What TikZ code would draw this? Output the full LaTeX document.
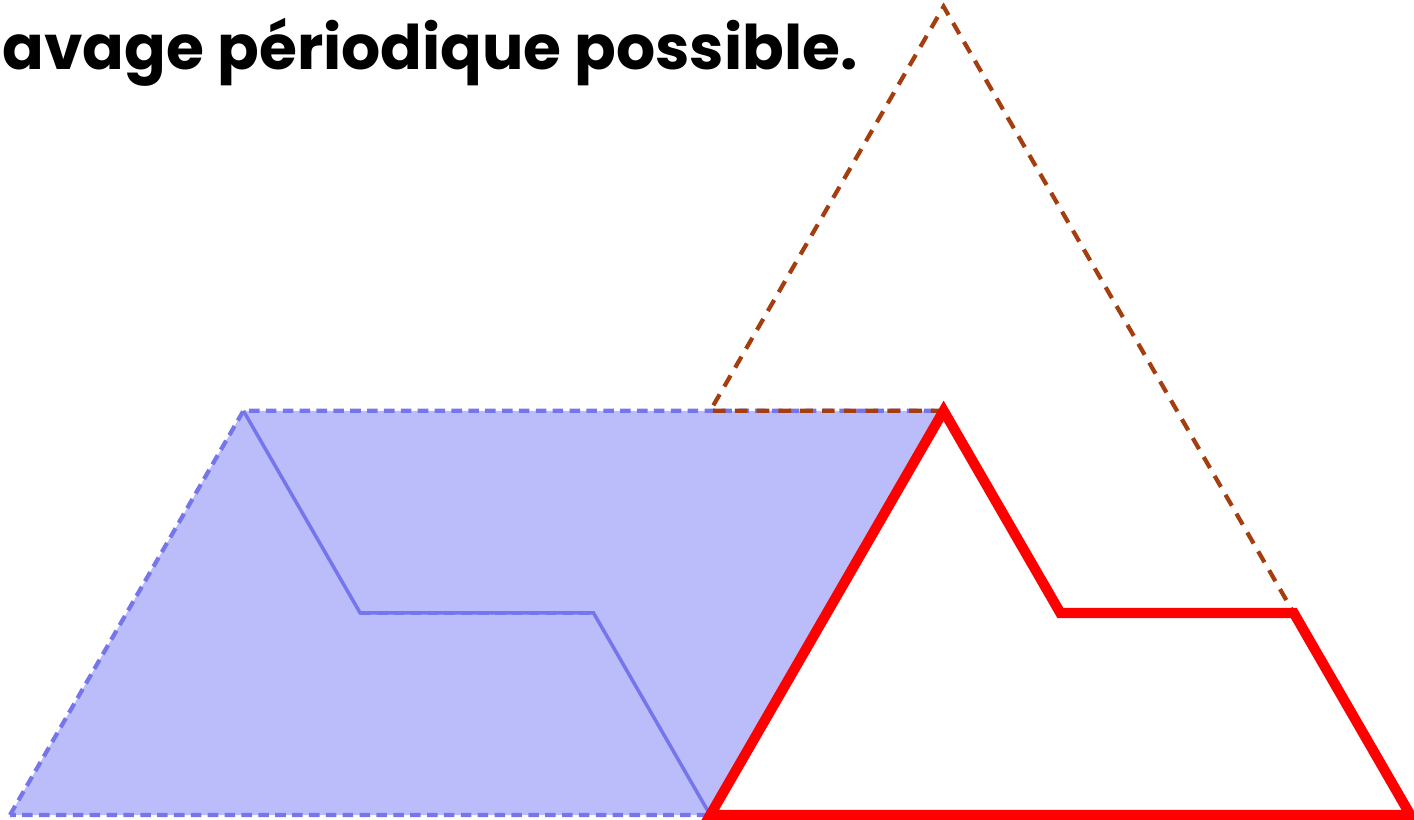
\documentclass[tikz,border=0pt]{standalone}
\usepackage{fontspec}
\setmainfont{Poppins}
\usetikzlibrary{positioning}

\definecolor{tileblue}{RGB}{186,189,250}
\definecolor{edgeblue}{RGB}{118,118,236}
\definecolor{tilered}{RGB}{255,0,0}
\definecolor{tilebrown}{RGB}{165,62,15}

\begin{document}
\begin{tikzpicture}[x=1.167cm, y=2.021cm,
  bluetile/.style={fill=tileblue, draw=edgeblue, line width=1.2pt, dash pattern=on 3pt off 1.8pt},
  zigzag/.style={draw=edgeblue, line width=1pt},
  redtile/.style={draw=tilered, line width=2.9pt, line join=miter},
  bigtri/.style={draw=tilebrown, line width=1.2pt, dash pattern=on 3.6pt off 2.6pt},
  title/.style={font=\fontsize{17.5}{21}\selectfont\bfseries, inner sep=0pt},
]
\useasboundingbox (-0.10cm,-0.04cm) rectangle (14.04cm,8.15cm);

% ---------- Lattice points ----------
\coordinate (p00) at (0,0);
\coordinate (p22) at (2,2);
\coordinate (p31) at (3,1);
\coordinate (p51) at (5,1);
\coordinate (p60) at (6,0);
\coordinate (p62) at (6,2);
\coordinate (p82) at (8,2);
\coordinate (p84) at (8,4);
\coordinate (p91) at (9,1);
\coordinate (p111) at (11,1);
\coordinate (p120) at (12,0);

% ---------- Blue tile (parallelogram) ----------
\path[bluetile] (p00) -- (p22) -- (p82) -- (p60) -- cycle;
\draw[zigzag] (p22) -- (p31) -- (p51) -- (p60);
\draw[zigzag, dash pattern=on 3pt off 1.8pt, line width=1.2pt] (p31) -- (p51);

% ---------- Big dashed triangle ----------
\draw[bigtri] (p82) -- (p62) -- (p84) -- (p111) -- (p91);

% ---------- Red tile ----------
\draw[redtile] (p60) -- (p82) -- (p91) -- (p111) -- (p120) -- cycle;

% ---------- Title ----------
\node[title, anchor=base west] (ttl) at (-0.08cm,7.45cm) {avage périodique possible.};

\end{tikzpicture}
\end{document}
